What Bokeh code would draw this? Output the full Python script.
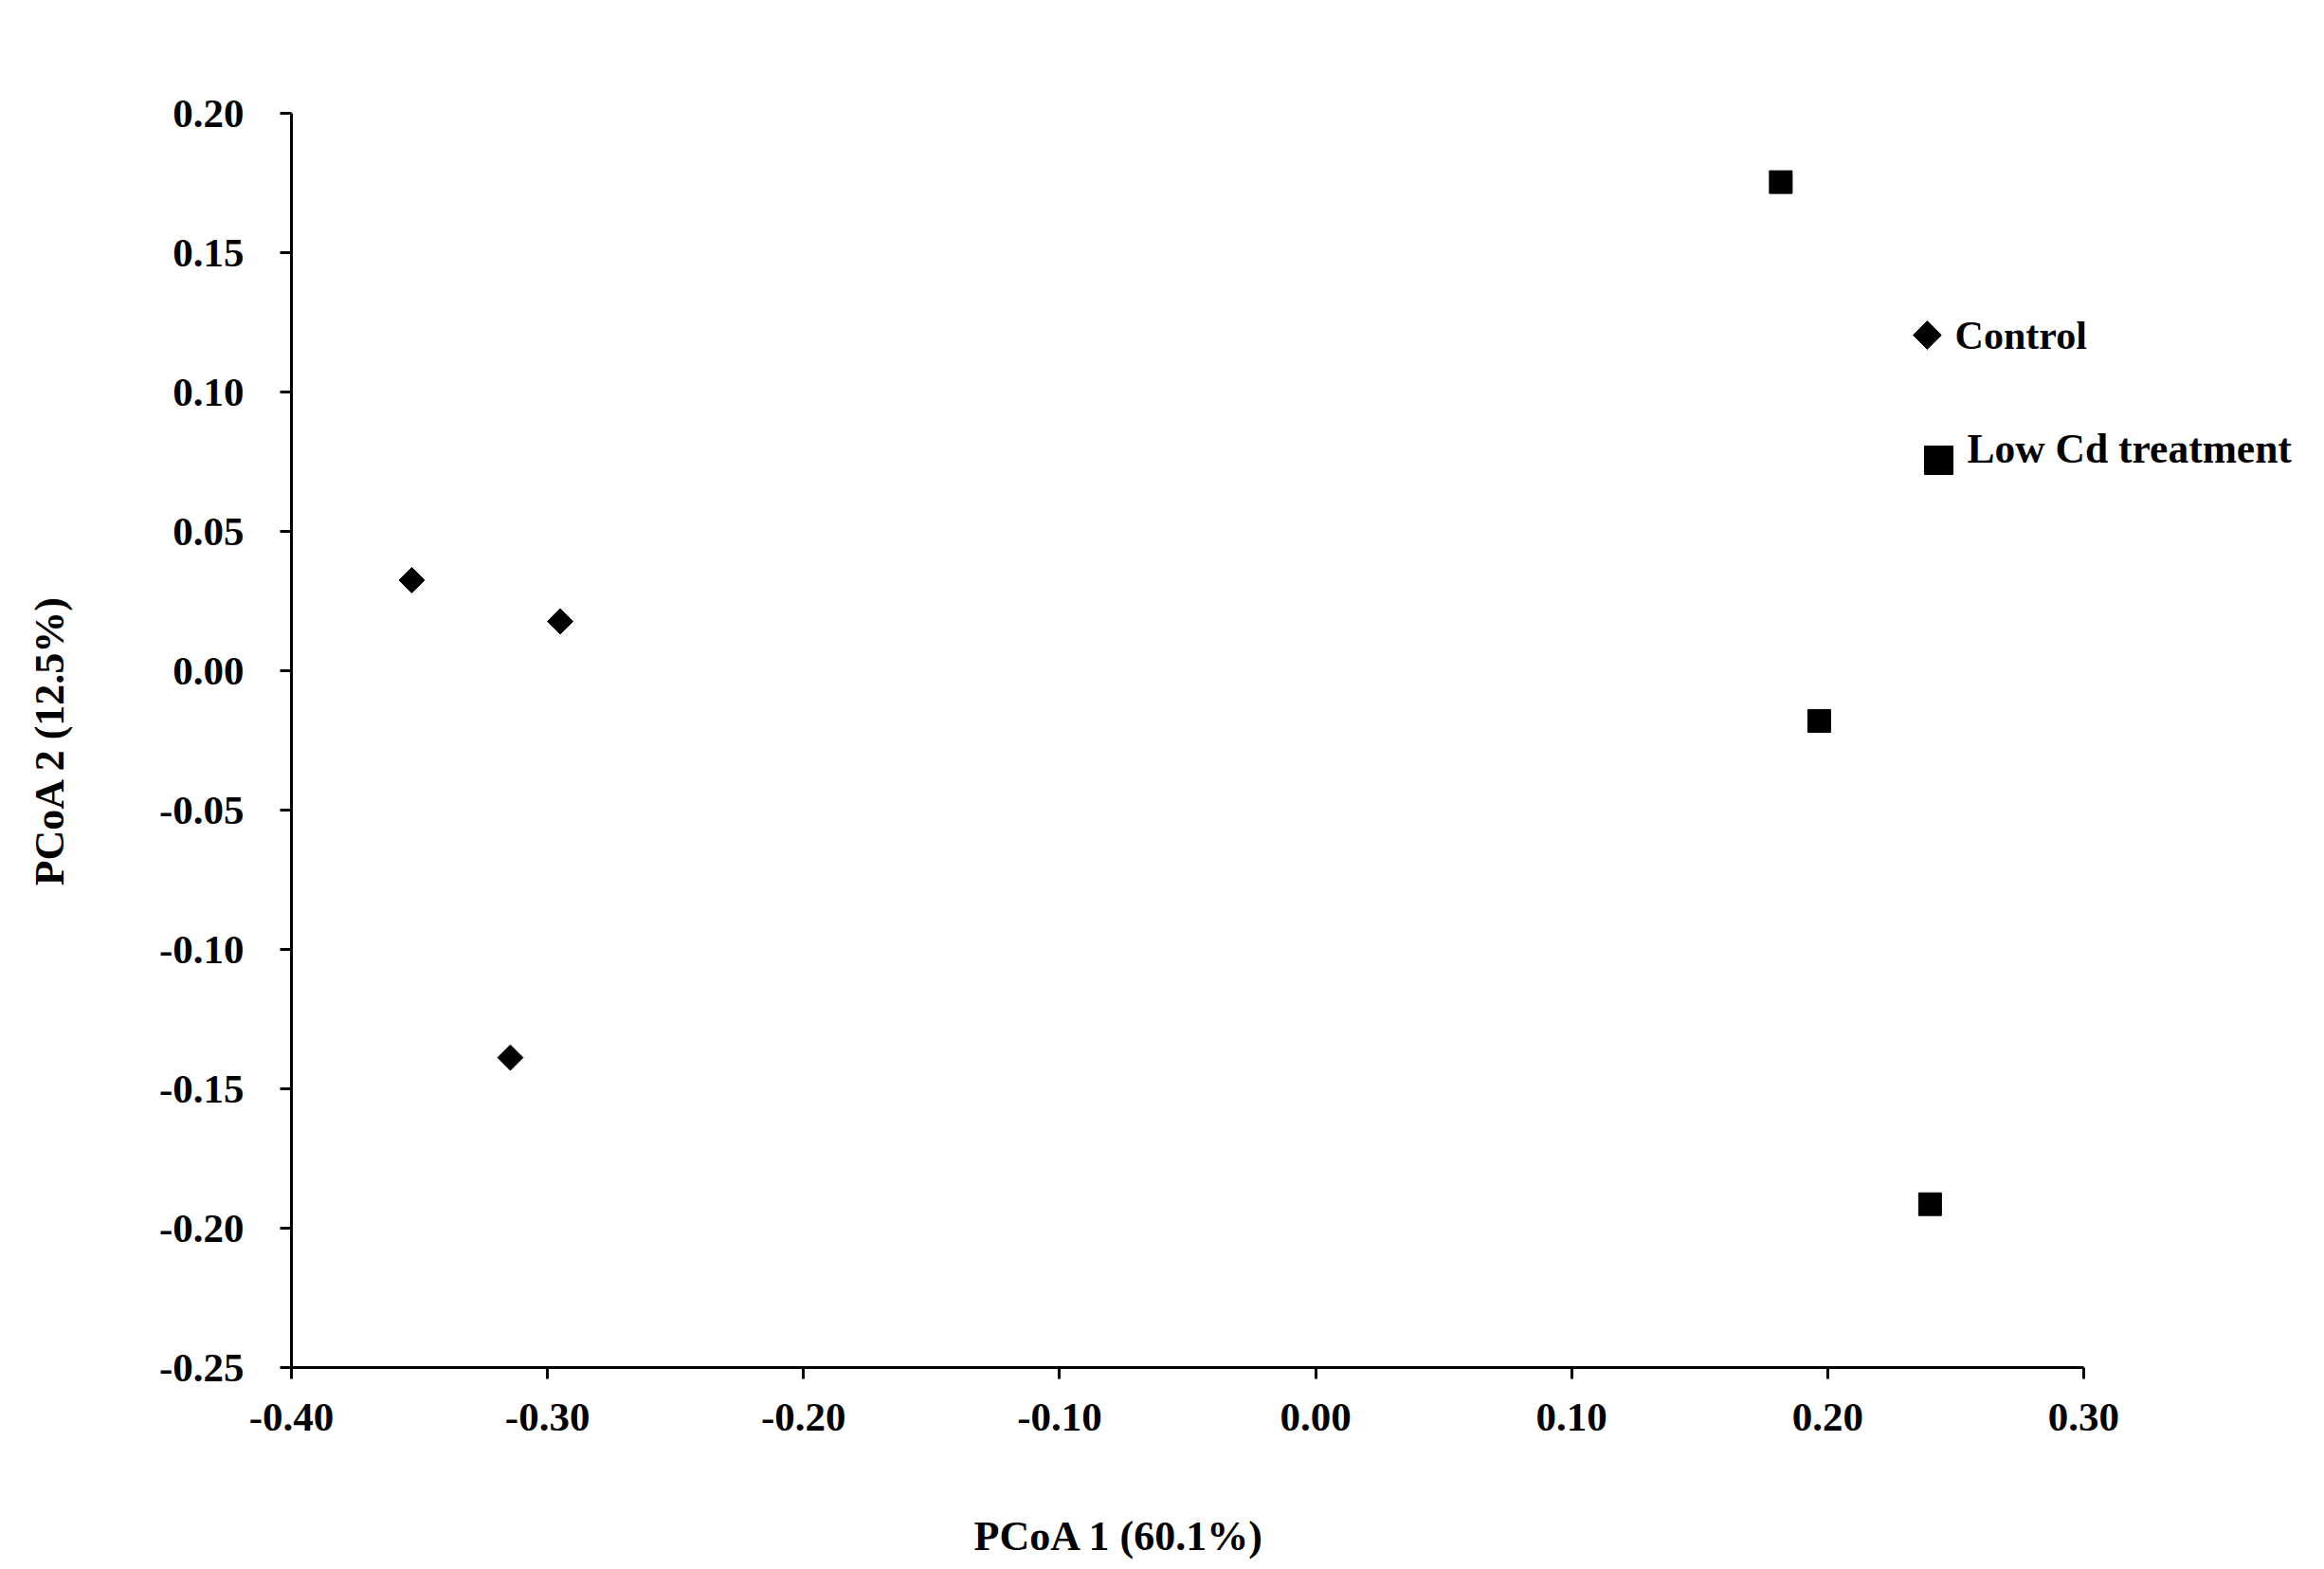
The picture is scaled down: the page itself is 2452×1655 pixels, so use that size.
import math
from bokeh.plotting import figure
from bokeh.models import Range1d, FixedTicker, ColumnDataSource, Title
from bokeh.core.properties import value
from bokeh.embed import file_html
from bokeh.resources import INLINE

# ---- data ----
control_x = [-0.353, -0.295, -0.3145]
control_y = [0.0325, 0.0177, -0.1388]
lowcd_x = [0.1817, 0.1967, 0.240]
lowcd_y = [0.1753, -0.018, -0.1914]

series_labels = ["Control", "Low Cd treatment"]
x_ticks = [-0.40, -0.30, -0.20, -0.10, 0.00, 0.10, 0.20, 0.30]
y_ticks = [-0.25, -0.20, -0.15, -0.10, -0.05, 0.00, 0.05, 0.10, 0.15, 0.20]
x_title = "PCoA 1 (60.1%)"
y_title = "PCoA 2 (12.5%)"

FONT = "Liberation Serif"

p = figure(width=2448, height=1655, output_backend="svg", toolbar_location=None,
           x_range=Range1d(-0.40, 0.3896), y_range=Range1d(-0.25, 0.20),
           min_border_left=307, min_border_right=8, min_border_top=119, min_border_bottom=213)
p.outline_line_color = None
p.grid.visible = False
p.background_fill_color = "white"
p.border_fill_color = "white"

for ax in (p.xaxis[0], p.yaxis[0]):
    ax.axis_line_color = "black"
    ax.axis_line_width = 3
    ax.major_tick_line_color = "black"
    ax.major_tick_line_width = 3
    ax.major_tick_in = 0
    ax.major_tick_out = 12
    ax.minor_tick_line_color = None
    ax.major_label_text_font = FONT
    ax.major_label_text_font_style = "bold"
    ax.major_label_text_font_size = "43px"
    ax.major_label_text_color = "black"
    ax.axis_label_text_font = FONT
    ax.axis_label_text_font_style = "bold"
    ax.axis_label_text_font_size = "44px"
    ax.axis_label_text_color = "black"

p.xaxis.ticker = FixedTicker(ticks=x_ticks)
p.yaxis.ticker = FixedTicker(ticks=y_ticks)
p.xaxis.bounds = (-0.40, 0.30)
p.xaxis.major_label_overrides = {t: f"{t:.2f}" for t in x_ticks}
p.yaxis.major_label_overrides = {t: f"{t:.2f}" for t in y_ticks}
p.xaxis.major_label_standoff = 26
p.yaxis.major_label_standoff = 38
p.yaxis.axis_label = y_title
p.yaxis.axis_label_standoff = 88

# spacer below x tick labels (blank axis label) so the x title sits lower
p.xaxis.axis_label = " "
p.xaxis.axis_label_text_font_size = "1px"
p.xaxis.axis_label_standoff = 78

# x axis title (left-aligned with an offset, as in the original)
xt = Title(text=x_title, align="left", offset=720, standoff=0,
           text_font=FONT, text_font_style="bold", text_font_size="44px", text_color="black")
p.add_layout(xt, "below")

# data points
p.scatter(control_x, control_y, marker="square", angle=math.pi / 4, size=19,
          fill_color="black", line_color="black", line_width=1)
p.scatter(lowcd_x, lowcd_y, marker="square", size=24,
          fill_color="black", line_color="black", line_width=1)

# legend (manual, inside plot area)
p.scatter([0.2389], [0.1204], marker="square", angle=math.pi / 4, size=21,
          fill_color="black", line_color="black", line_width=1)
p.scatter([0.2434], [0.0755], marker="square", size=30,
          fill_color="black", line_color="black", line_width=1)
leg_src = ColumnDataSource(dict(x=[0.2497, 0.2545], y=[0.1201, 0.0797], t=series_labels,
                                fs=["42px", "43.5px"]))
p.text(x="x", y="y", text="t", source=leg_src, text_font=value(FONT), text_font_style="bold",
       text_font_size="fs", text_baseline="alphabetic", text_align="left", text_color="black")

open("out.html", "w").write(file_html(p, INLINE))
